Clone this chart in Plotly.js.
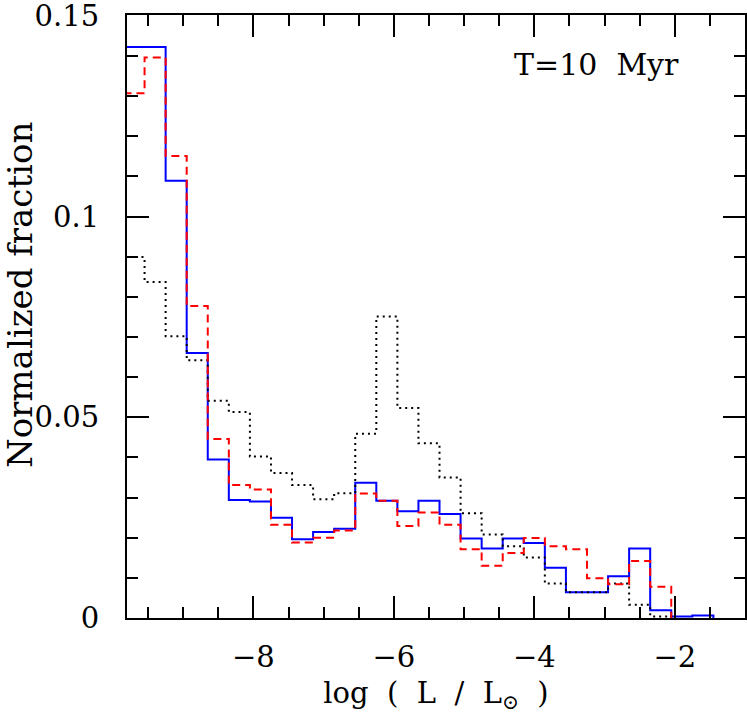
<!DOCTYPE html>
<html>
<head>
<meta charset="utf-8">
<script src="https://cdn.plot.ly/plotly-3.0.1.min.js"></script>
<style>html,body{margin:0;padding:0;background:#fff;}#chart{width:747px;height:714px;}</style>
</head>
<body>
<div id="chart"></div>
<script>
// Bin centres of log(L/Lsun) (bin width 0.3)
const binCenters = [-9.7, -9.4, -9.1, -8.8, -8.5, -8.2, -7.9, -7.6, -7.3, -7.0,
                    -6.7, -6.4, -6.1, -5.8, -5.5, -5.2, -4.9, -4.6, -4.3, -4.0,
                    -3.7, -3.4, -3.1, -2.8, -2.5, -2.2, -1.9, -1.6];
const binWidth = 0.3;

// Normalized fraction per bin
const blueSolid = [0.1422, 0.1422, 0.1089, 0.0660, 0.0395, 0.0294, 0.0290, 0.0250, 0.0196, 0.0214,
                   0.0222, 0.0337, 0.0292, 0.0266, 0.0292, 0.0259, 0.0198, 0.0173, 0.0198, 0.0187,
                   0.0125, 0.0064, 0.0064, 0.0104, 0.0173, 0.0019, 0.0004, 0.0006];
const redDashed = [0.1307, 0.1396, 0.1151, 0.0777, 0.0446, 0.0331, 0.0320, 0.0232, 0.0188, 0.0200,
                   0.0218, 0.0310, 0.0292, 0.0229, 0.0263, 0.0232, 0.0171, 0.0130, 0.0162, 0.0199,
                   0.0179, 0.0171, 0.0099, 0.0084, 0.0142, 0.0078, 0, 0];
const blackDotted = [0.0899, 0.0837, 0.0702, 0.0642, 0.0541, 0.0513, 0.0402, 0.0361, 0.0331, 0.0296,
                     0.0311, 0.0459, 0.0751, 0.0523, 0.0435, 0.0350, 0.0261, 0.0208, 0.0179, 0.0151,
                     0.0086, 0.0064, 0.0064, 0.0086, 0.0033, 0.0004, 0, 0];

const xTickVals = [-8, -6, -4, -2];
const xTickText = ['\u22128', '\u22126', '\u22124', '\u22122'];
const yTickVals = [0, 0.05, 0.1, 0.15];
const yTickText = ['0', '0.05', '0.1', '0.15'];
const annotationText = 'T=10&nbsp;&nbsp;Myr';
const xTitle = 'log&nbsp;&nbsp;(&nbsp;&nbsp;L&nbsp;&nbsp;/&nbsp;&nbsp;L<sub>\u2299</sub>&nbsp;&nbsp;)';
const yTitle = 'Normalized fraction';

function stepTrace(vals, color, dash) {
  let n = vals.length;
  while (n > 0 && vals[n - 1] === 0) n--;
  const xs = [], ys = [];
  for (let i = 0; i < n; i++) {
    xs.push(binCenters[i] - binWidth / 2);
    ys.push(vals[i]);
  }
  xs.push(binCenters[n - 1] + binWidth / 2);
  ys.push(0);
  return {
    type: 'scatter', mode: 'lines', x: xs, y: ys,
    line: {shape: 'hv', color: color, width: 2, dash: dash},
    hoverinfo: 'skip', showlegend: false
  };
}

const FONT = 'DejaVu Serif';
const data = [
  stepTrace(blueSolid, '#0000ff', 'solid'),
  stepTrace(blackDotted, '#000000', '2px,4px'),
  stepTrace(redDashed, '#ff0000', '8px,5px')
];

const axisCommon = {
  showgrid: false, zeroline: false,
  showline: true, linecolor: '#000', linewidth: 2,
  mirror: 'allticks', ticks: 'inside', ticklen: 22, tickwidth: 2, tickcolor: '#000',
  ticklabeloverflow: 'allow',
  tickfont: {family: FONT, size: 29, color: '#000'}
};

const layout = {
  width: 747, height: 714,
  margin: {l: 127, r: 2, t: 15, b: 96},
  paper_bgcolor: '#fff', plot_bgcolor: '#fff',
  font: {family: FONT, color: '#000'},
  xaxis: Object.assign({}, axisCommon, {
    range: [-9.8, -1.0],
    tickmode: 'array', tickvals: xTickVals, ticktext: xTickText,
    minor: {dtick: 0.5, tick0: 0, ticks: 'inside', ticklen: 11, tickwidth: 2, tickcolor: '#000'},
    ticklabelstandoff: 12,
    title: {text: xTitle, font: {family: FONT, size: 29, color: '#000'}, standoff: 10}
  }),
  yaxis: Object.assign({}, axisCommon, {
    range: [0, 0.1502],
    tickmode: 'array', tickvals: yTickVals, ticktext: yTickText,
    minor: {dtick: 0.01, tick0: 0, ticks: 'inside', ticklen: 11, tickwidth: 2, tickcolor: '#000'},
    ticklabelstandoff: 20
  }),
  annotations: [{
    xref: 'paper', yref: 'paper', x: 0.76, y: 0.918, xanchor: 'center', yanchor: 'middle',
    text: annotationText, showarrow: false, font: {family: FONT, size: 30, color: '#000'}
  }, {
    xref: 'paper', yref: 'paper', x: -0.172, y: 0.535, xanchor: 'center', yanchor: 'middle',
    textangle: -90, text: yTitle, showarrow: false, font: {family: FONT, size: 34, color: '#000'}
  }]
};

Plotly.newPlot('chart', data, layout, {displayModeBar: false, staticPlot: true});
</script>
</body>
</html>
